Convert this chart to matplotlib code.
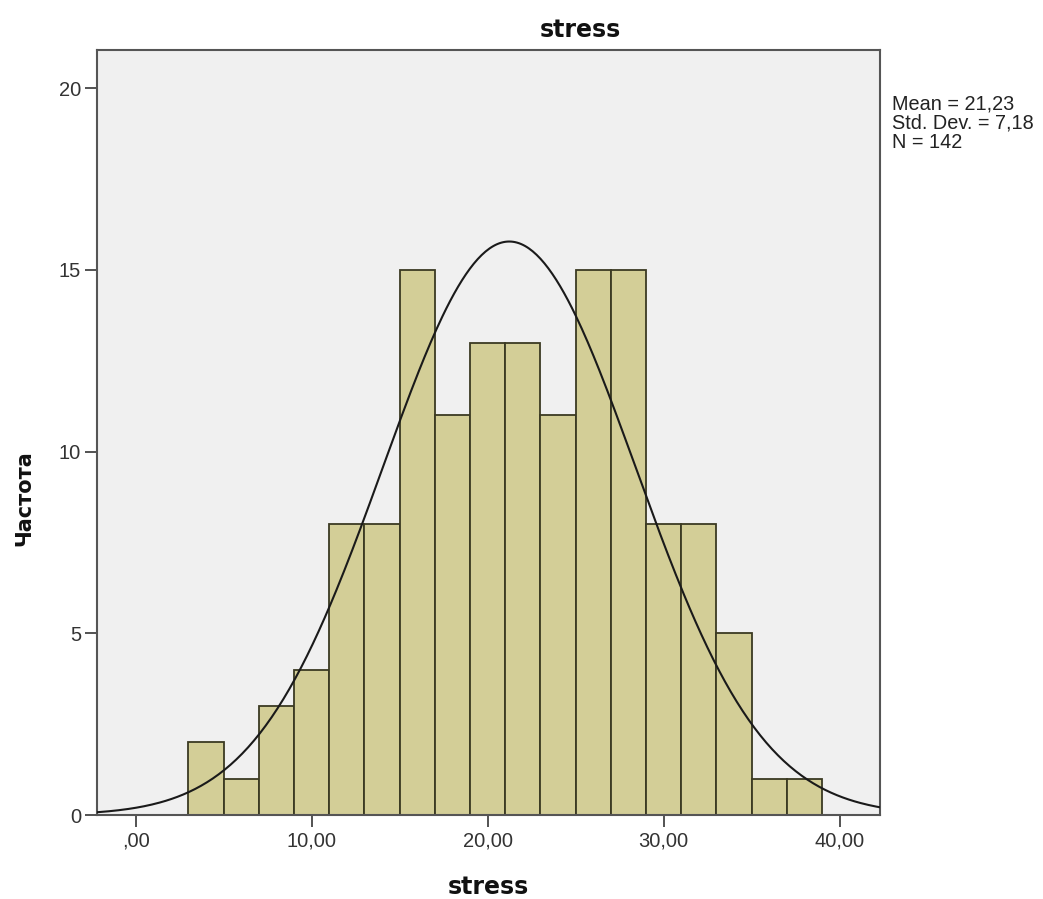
import numpy as np
import matplotlib
matplotlib.use("Agg")
import matplotlib.pyplot as plt

plt.rcParams['font.family'] = ['Liberation Sans', 'DejaVu Sans']

# histogram data
bin_edges = np.arange(3, 40, 2)  # 3..39
counts = [2, 1, 3, 4, 8, 8, 15, 11, 13, 13, 11, 15, 15, 8, 8, 5, 1, 1]
mean = 21.23
std = 7.18
n = 142
xticks = [0, 10, 20, 30, 40]
xtick_labels = [",00", "10,00", "20,00", "30,00", "40,00"]
yticks = [0, 5, 10, 15, 20]

fig = plt.figure(figsize=(10.43, 8.99), dpi=100)
ax = fig.add_axes([0.093, 0.0934, 0.7507, 0.851])
ax.set_facecolor("#f0f0f0")

lefts = bin_edges[:-1]
widths = np.diff(bin_edges)
ax.bar(lefts, counts, width=widths, align="edge", color="#d3ce97",
       edgecolor="#3b3a22", linewidth=1.3, zorder=2)

# normal curve scaled to counts
xs = np.linspace(-2.2, 42.3, 400)
bw = widths[0]
ys = n * bw / (std * np.sqrt(2 * np.pi)) * np.exp(-0.5 * ((xs - mean) / std) ** 2)
ax.plot(xs, ys, color="#1a1a1a", linewidth=1.5, zorder=3)

ax.set_xlim(-2.2, 42.3)
ax.set_ylim(0, 21.05)
ax.set_xticks(xticks)
ax.set_xticklabels(xtick_labels)
ax.set_yticks(yticks)
ax.tick_params(axis="both", direction="out", length=8.5, width=1.3,
               color="#444444", labelsize=14.5, labelcolor="#333333", pad=3)
for s in ax.spines.values():
    s.set_color("#555555")
    s.set_linewidth(1.5)

bold = dict(family=['DejaVu Sans'], fontweight="bold", color="#111111")
ax.set_title("stress", fontsize=17, x=0.617, y=1.017, pad=0, **bold)
ax.set_xlabel("stress", fontsize=17, **bold)
ax.xaxis.set_label_coords(0.5, -0.079)
ax.set_ylabel("Частота", fontsize=15, **bold)
ax.yaxis.set_label_coords(-0.0926, 0.414)
ax.yaxis.label.set_verticalalignment("center")

fig.text(0.855, 1 - 94 / 899, "Mean = 21,23\nStd. Dev. = 7,18\nN = 142",
         fontsize=14.3, va="top", ha="left", color="#222222", linespacing=1.05)

fig.savefig("out.png", dpi=100)
